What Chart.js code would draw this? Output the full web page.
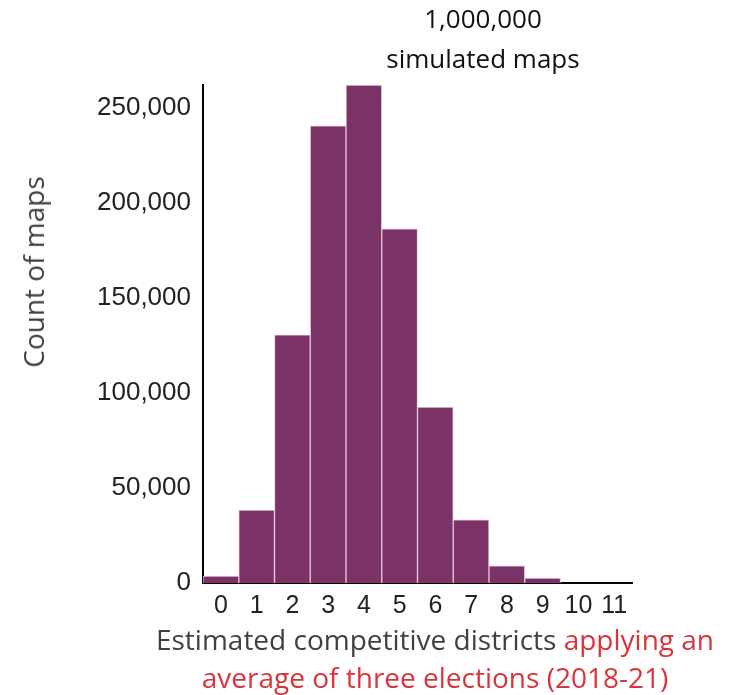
<!DOCTYPE html>
<html>
<head>
<meta charset="utf-8">
<script src="https://cdn.jsdelivr.net/npm/chart.js@4"></script>
<style>
  body { margin: 0; background: #fff; }
  #wrap { position: relative; width: 733px; height: 695px; }
  canvas { position: absolute; left: 0; top: 0; }
  .txt { position: absolute; font-family: "Open Sans", Lato, sans-serif; font-size: 28px; white-space: nowrap; line-height: 1; }
  .red { color: #d9343b; }
</style>
</head>
<body>
<div id="wrap">
  <canvas id="chart" width="733" height="695"></canvas>
  <div class="txt" id="topTitle" style="left:0; width:966px; top:-2px; text-align:center; color:#111; font-size:26px; line-height:40px;">1,000,000<br>simulated maps</div>
  <div class="txt" id="yTitle" style="left:33px; top:272px; color:#404040; transform: translate(-50%, -50%) rotate(-90deg);">Count of maps</div>
  <div class="txt" id="xTitle" style="left:0; width:870px; top:620px; text-align:center; color:#404040; line-height:38px;">Estimated competitive districts <span class="red">applying an</span><br><span class="red">average of three elections (2018-21)</span></div>
</div>
<script>
const districts = ["0", "1", "2", "3", "4", "5", "6", "7", "8", "9", "10", "11"];
const mapCounts = [3700, 38400, 130500, 240500, 262000, 186300, 92600, 33200, 9000, 2600, 0, 0];
const yTicks = [0, 50000, 100000, 150000, 200000, 250000];

const ctx = document.getElementById("chart");

new Chart(ctx, {
  type: 'bar',
  data: {
    labels: districts,
    datasets: [{
      data: mapCounts,
      backgroundColor: '#7b3266',
      borderColor: 'rgba(225, 195, 215, 0.9)',
      borderWidth: 1,
      categoryPercentage: 1,
      barPercentage: 1
    }]
  },
  options: {
    responsive: false,
    animation: false,
    layout: { padding: { top: 85, right: 101, bottom: 0, left: 0 } },
    plugins: { legend: { display: false }, tooltip: { enabled: false } },
    scales: {
      x: {
        grid: { display: false },
        border: { display: true, color: '#000', width: 2 },
        ticks: { color: '#222', font: { family: 'Liberation Sans', size: 25 }, padding: 0, maxRotation: 0, autoSkip: false },
        afterFit: scale => { scale.height = 112; }
      },
      y: {
        min: 0,
        max: 262000,
        grid: { display: false },
        border: { display: true, color: '#000', width: 2 },
        ticks: {
          color: '#222',
          font: { family: 'Liberation Sans', size: 26 },
          padding: 4,
          stepSize: 50000,
          callback: v => v.toLocaleString('en-US')
        },
        afterBuildTicks: scale => {
          scale.ticks = yTicks.map(v => ({ value: v }));
        },
        afterFit: scale => { scale.width = 203; }
      }
    }
  }
});
</script>
</body>
</html>
